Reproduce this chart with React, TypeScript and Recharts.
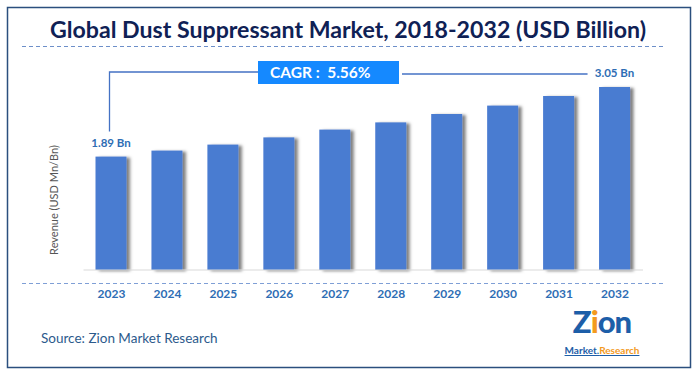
import React from "react";
import { BarChart, Bar, XAxis, YAxis, LabelList } from "recharts";

const years = ["2023", "2024", "2025", "2026", "2027", "2028", "2029", "2030", "2031", "2032"];
const revenue = [1.89, 1.99, 2.09, 2.21, 2.34, 2.46, 2.6, 2.74, 2.9, 3.05];
const labelTexts = ["1.89 Bn", "", "", "", "", "", "", "", "", "3.05 Bn"];
const titleText = "Global Dust Suppressant Market, 2018-2032 (USD Billion)";
const cagrText = "CAGR :  5.56%";
const sourceText = "Source: Zion Market Research";

const data = years.map((y, i) => ({ year: y, value: revenue[i], label: labelTexts[i] }));

const FONT = "Lato, 'Open Sans', sans-serif";
const BAR = "#4a7bd1";
const LABEL_BLUE = "#2e6db4";
const LINE_BLUE = "#4472c4";

const BarShape = (props: any) => {
  const { x, y, width, height } = props;
  return <rect x={x} y={y} width={width} height={height} fill={BAR} filter="url(#barShadow)" />;
};

const Tick = (props: any) => {
  const { x, y, payload } = props;
  return (
    <text x={x} y={y + 20} textAnchor="middle" fontFamily={FONT} fontWeight={700} fontSize={12} fill={LABEL_BLUE}>
      {payload.value}
    </text>
  );
};

const EndLabel = (props: any) => {
  const { x, y, width, index } = props;
  const txt = labelTexts[index];
  if (!txt) return null;
  const cx = x + width / 2;
  const ty = y - 14;
  return (
    <g>
      {index === 0 && (
        <polyline points={`${cx - 1.5},${ty - 11} ${cx - 1.5},72 258,72`} fill="none" stroke={LINE_BLUE} strokeWidth={1.3} />
      )}
      {index === labelTexts.length - 1 && (
        <line x1={402} y1={74} x2={cx - 27} y2={74} stroke={LINE_BLUE} strokeWidth={1.3} />
      )}
      <text x={cx} y={ty} dy="0.35em" textAnchor="middle" fontFamily={FONT} fontWeight={700} fontSize={11.5} fill={LABEL_BLUE}>
        {txt}
      </text>
    </g>
  );
};

export default function App() {
  return (
    <div style={{ position: "absolute", left: 0, top: 0, width: 697, height: 376, background: "#fff" }}>
      <svg width={697} height={376} style={{ position: "absolute", left: 0, top: 0 }}>
        <defs>
          <filter id="barShadow" x="-20%" y="-5%" width="160%" height="110%">
            <feDropShadow dx="3.5" dy="1" stdDeviation="1.8" floodColor="#000" floodOpacity="0.5" />
          </filter>
        </defs>
        <rect x={7.5} y={7.5} width={683} height={360} fill="#fff" stroke="#2b4f7e" strokeWidth={1.5} />
        <text x={348} y={30} dy="0.35em" textAnchor="middle" fontFamily={FONT} fontWeight={700} fontSize={22} fill="#0f2155" textLength={596} lengthAdjust="spacingAndGlyphs">
          {titleText}
        </text>
        <line x1={22} y1={46.5} x2={663} y2={46.5} stroke="#6d8fc9" strokeWidth={1.2} strokeDasharray="4 3" />
        <line x1={22} y1={283.5} x2={663} y2={283.5} stroke="#7f9fd6" strokeWidth={1.2} strokeDasharray="4 3" />
        <text transform="translate(58,200) rotate(-90)" textAnchor="middle" fontFamily={FONT} fontSize={11} fill="#555">
          Revenue (USD Mn/Bn)
        </text>
        <text x={41} y={338} dy="0.35em" fontFamily={FONT} fontSize={13.5} fill="#2c5a8c">
          {sourceText}
        </text>
        <g fontFamily={FONT}>
          <text x={602} y={333} textAnchor="middle" fontSize={31} fontWeight={900} fill="#1d5ea8" letterSpacing={-1}>
            Z<tspan fill="#f39a1e">i</tspan>on
          </text>
          <text x={602} y={354} textAnchor="middle" fontSize={10} fontWeight={700} fill="#1d5ea8" textDecoration="underline">
            Market.<tspan fill="#f39a1e">Research</tspan>
          </text>
        </g>
      </svg>
      <div style={{ position: "absolute", left: 0, top: 0 }}>
        <BarChart width={697} height={376} data={data} margin={{ top: 60, right: 54, bottom: 76, left: 83.5 }} barSize={31}>
          <YAxis hide domain={[0, 3.5]} />
          <XAxis dataKey="year" height={30} axisLine={{ stroke: "#d9d9d9" }} tickLine={false} tick={<Tick />} interval={0} />
          <Bar dataKey="value" isAnimationActive={false} shape={<BarShape />}>
            <LabelList dataKey="label" content={<EndLabel />} />
          </Bar>
        </BarChart>
      </div>
      <div style={{ position: "absolute", left: 258, top: 61, width: 141, height: 23, background: "#1589ff", color: "#fff", fontFamily: FONT, fontWeight: 700, fontSize: 15.5, lineHeight: "23px", boxSizing: "border-box", paddingLeft: 12, whiteSpace: "pre" }}>
        {cagrText}
      </div>
    </div>
  );
}
